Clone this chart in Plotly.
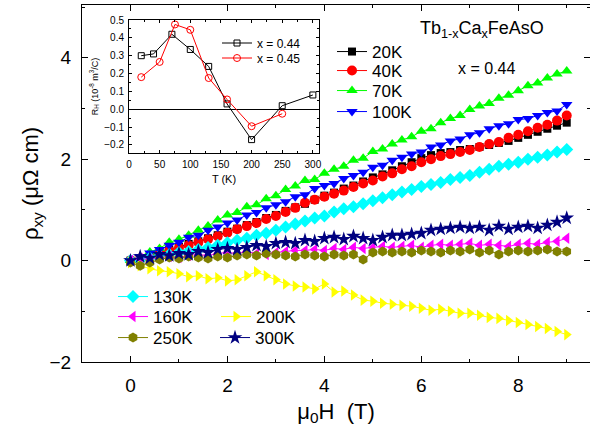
import plotly.graph_objects as go

# ---------------- data ----------------
H = [0.0, 0.2, 0.4, 0.6, 0.8, 1.0, 1.2, 1.4, 1.6, 1.8, 2.0, 2.2, 2.4, 2.6, 2.8,
     3.0, 3.2, 3.4, 3.6, 3.8, 4.0, 4.2, 4.4, 4.6, 4.8, 5.0, 5.2, 5.4, 5.6, 5.8,
     6.0, 6.2, 6.4, 6.6, 6.8, 7.0, 7.2, 7.4, 7.6, 7.8, 8.0, 8.2, 8.4, 8.6, 8.8, 9.0]

rho_20K = [0.00, 0.04, 0.10, 0.15, 0.22, 0.27, 0.33, 0.38, 0.44, 0.50, 0.57, 0.63, 0.70, 0.76, 0.84,
           0.90, 0.98, 1.05, 1.12, 1.20, 1.28, 1.34, 1.42, 1.48, 1.56, 1.64, 1.70, 1.78, 1.86, 1.94,
           2.02, 2.08, 2.12, 2.14, 2.18, 2.20, 2.24, 2.28, 2.32, 2.36, 2.42, 2.48, 2.54, 2.60, 2.66, 2.72]
rho_40K = [0.00, 0.04, 0.08, 0.14, 0.20, 0.25, 0.30, 0.36, 0.42, 0.48, 0.55, 0.62, 0.68, 0.74, 0.82,
           0.88, 0.96, 1.04, 1.14, 1.20, 1.26, 1.32, 1.38, 1.45, 1.52, 1.58, 1.66, 1.72, 1.80, 1.86,
           1.94, 2.00, 2.06, 2.10, 2.14, 2.18, 2.24, 2.30, 2.34, 2.42, 2.48, 2.55, 2.62, 2.68, 2.76, 2.86]
rho_70K = [0.00, 0.06, 0.17, 0.24, 0.36, 0.42, 0.50, 0.60, 0.68, 0.80, 0.90, 0.95, 1.06, 1.10, 1.22,
           1.28, 1.40, 1.47, 1.58, 1.60, 1.72, 1.80, 1.86, 1.98, 2.02, 2.15, 2.20, 2.30, 2.38, 2.44,
           2.55, 2.60, 2.72, 2.80, 2.86, 2.98, 3.05, 3.10, 3.20, 3.26, 3.35, 3.45, 3.50, 3.60, 3.68, 3.74]
rho_100K = [0.00, 0.08, 0.15, 0.22, 0.30, 0.36, 0.46, 0.50, 0.60, 0.66, 0.74, 0.80, 0.90, 0.95, 1.04,
            1.10, 1.16, 1.26, 1.30, 1.42, 1.48, 1.52, 1.62, 1.68, 1.74, 1.84, 1.88, 1.98, 2.04, 2.10,
            2.14, 2.24, 2.28, 2.36, 2.40, 2.48, 2.52, 2.60, 2.66, 2.70, 2.78, 2.80, 2.86, 2.92, 2.95, 3.08]
rho_130K = [0.00, 0.02, 0.05, 0.09, 0.12, 0.16, 0.18, 0.22, 0.26, 0.30, 0.35, 0.40, 0.44, 0.50, 0.54,
            0.60, 0.66, 0.72, 0.78, 0.84, 0.88, 0.96, 1.02, 1.06, 1.12, 1.18, 1.24, 1.30, 1.35, 1.40,
            1.46, 1.50, 1.54, 1.60, 1.64, 1.68, 1.74, 1.80, 1.86, 1.90, 1.94, 2.00, 2.04, 2.08, 2.14, 2.19]
rho_160K = [0.00, 0.04, 0.02, 0.06, 0.08, 0.06, 0.10, 0.12, 0.10, 0.14, 0.16, 0.14, 0.18, 0.14, 0.12,
            0.16, 0.18, 0.20, 0.20, 0.22, 0.20, 0.24, 0.22, 0.26, 0.24, 0.26, 0.28, 0.26, 0.28, 0.30,
            0.26, 0.30, 0.32, 0.30, 0.32, 0.34, 0.30, 0.32, 0.30, 0.28, 0.32, 0.34, 0.32, 0.36, 0.38, 0.44]
rho_200K = [-0.04, -0.10, -0.16, -0.20, -0.22, -0.26, -0.32, -0.30, -0.36, -0.34, -0.40, -0.38, -0.30, -0.22, -0.30,
            -0.38, -0.46, -0.50, -0.52, -0.56, -0.46, -0.62, -0.60, -0.68, -0.78, -0.80, -0.84, -0.86, -0.88, -0.90,
            -0.94, -0.98, -0.96, -1.00, -1.04, -1.04, -1.08, -1.12, -1.14, -1.18, -1.22, -1.26, -1.30, -1.34, -1.40, -1.46]
rho_250K = [-0.04, -0.10, -0.04, 0.02, 0.06, 0.04, 0.08, 0.06, 0.04, 0.08, 0.06, 0.10, 0.12, 0.10, 0.14,
            0.12, 0.10, 0.08, 0.12, 0.10, 0.08, 0.12, 0.10, 0.12, 0.02, 0.16, 0.18, 0.16, 0.18, 0.16,
            0.20, 0.18, 0.16, 0.20, 0.18, 0.22, 0.16, 0.20, 0.12, 0.18, 0.20, 0.18, 0.20, 0.22, 0.18, 0.18]
rho_300K = [0.00, 0.08, 0.05, 0.12, 0.10, 0.14, 0.12, 0.18, 0.16, 0.22, 0.24, 0.22, 0.26, 0.30, 0.28,
            0.34, 0.36, 0.34, 0.40, 0.38, 0.44, 0.46, 0.42, 0.48, 0.44, 0.40, 0.46, 0.50, 0.50, 0.52,
            0.54, 0.60, 0.62, 0.64, 0.66, 0.64, 0.66, 0.60, 0.68, 0.62, 0.66, 0.68, 0.64, 0.70, 0.76, 0.84]

# inset: Hall coefficient vs temperature
T_044 = [20, 40, 70, 100, 130, 160, 200, 250, 300]
RH_044 = [0.30, 0.31, 0.42, 0.335, 0.24, 0.03, -0.17, 0.02, 0.08]
T_045 = [20, 50, 75, 100, 130, 160, 200, 250]
RH_045 = [0.18, 0.265, 0.475, 0.445, 0.175, 0.055, -0.095, -0.025]

W, Hgt = 590, 431
ml, mr, mt, mb = 82, 0, 5, 69
pw, ph = W - ml - mr, Hgt - mt - mb


def px_x(p):
    return (p - ml) / pw


def px_y(p):
    return (Hgt - mb - p) / ph


# name, values, colour, symbol, size, legend-left(px), legend-row(px)
series = [
    ("20K", rho_20K, "#000000", "square", 8, 332, 52),
    ("40K", rho_40K, "#ff0000", "circle", 10, 332, 71),
    ("70K", rho_70K, "#00ff00", "triangle-up", 10, 332, 91),
    ("100K", rho_100K, "#0000ff", "triangle-down", 10, 332, 112),
    ("130K", rho_130K, "#00ffff", "diamond", 10, 113, 297),
    ("160K", rho_160K, "#ff00ff", "triangle-left", 10, 113, 317),
    ("200K", rho_200K, "#ffff00", "triangle-right", 10, 216, 317),
    ("250K", rho_250K, "#808000", "hexagon", 10, 113, 338),
    ("300K", rho_300K, "#000080", "star", 11, 215, 338),
]

FONT = "Arial, Liberation Sans, sans-serif"
fig = go.Figure()
legends = {}
for i, (name, vals, col, sym, sz, lx, ly) in enumerate(series):
    key = "legend" if i == 0 else f"legend{i + 1}"
    fig.add_trace(go.Scatter(
        x=H, y=vals, mode="lines+markers", name=name, showlegend=True,
        line=dict(color=col, width=1),
        marker=dict(symbol=sym, size=sz, color=col, line=dict(width=0)),
        legend=key, xaxis="x", yaxis="y"))
    legends[key] = dict(x=px_x(lx), y=px_y(ly), xanchor="left", yanchor="middle",
                        bgcolor="rgba(0,0,0,0)", font=dict(size=17), visible=True)

n = len(series)
inset_series = [
    ("x = 0.44", T_044, RH_044, "black", "square-open", 6, 217, 43),
    ("x = 0.45", T_045, RH_045, "red", "circle-open", 7, 217, 58),
]
for j, (name, tx, ry, col, sym, sz, lx, ly) in enumerate(inset_series):
    key = f"legend{n + j + 1}"
    fig.add_trace(go.Scatter(
        x=tx, y=ry, mode="lines+markers", name=name, showlegend=True,
        line=dict(color=col, width=1),
        marker=dict(symbol=sym, size=sz, color=col, line=dict(width=1, color=col)),
        legend=key, xaxis="x2", yaxis="y2"))
    legends[key] = dict(x=px_x(lx), y=px_y(ly), xanchor="left", yanchor="middle",
                        bgcolor="rgba(0,0,0,0)", font=dict(size=12), visible=True)

axis_common = dict(showline=True, linecolor="black", linewidth=1.3, mirror="allticks",
                   ticks="inside", tickcolor="black", showgrid=False, zeroline=False,
                   automargin=False)

fig.update_layout(
    width=W, height=Hgt, showlegend=True,
    margin=dict(l=ml, r=mr, t=mt, b=mb, autoexpand=False),
    paper_bgcolor="white", plot_bgcolor="white",
    font=dict(family=FONT, color="black"),
    xaxis=dict(range=[-1, 9.48], tickvals=[0, 2, 4, 6, 8], ticklen=6, tickwidth=1.3,
               minor=dict(ticks="inside", dtick=1, tick0=0, ticklen=3, tickcolor="black"),
               tickfont=dict(size=19), ticklabelstandoff=6,
               title=dict(text="μ<sub>0</sub>H  (T)", font=dict(size=22), standoff=8),
               **axis_common),
    yaxis=dict(range=[-2, 5.04], tickvals=[-2, 0, 2, 4], ticklen=6, tickwidth=1.3,
               minor=dict(ticks="inside", dtick=1, tick0=0, ticklen=3, tickcolor="black"),
               tickfont=dict(size=19), ticklabelstandoff=6,
               title=dict(text="ρ<sub>xy</sub> (μΩ cm)", font=dict(size=22), standoff=4),
               **axis_common),
    xaxis2=dict(domain=[px_x(129), px_x(319)], anchor="y2", range=[0, 310],
                tickvals=[0, 50, 100, 150, 200, 250, 300], ticklen=3, tickwidth=1,
                minor=dict(ticks="inside", dtick=25, tick0=0, ticklen=2, tickcolor="black"),
                tickfont=dict(size=10), ticklabelstandoff=2,
                title=dict(text="T (K)", font=dict(size=11), standoff=6),
                showline=True, linecolor="black", linewidth=1, mirror="allticks",
                ticks="inside", tickcolor="black", showgrid=False, zeroline=False,
                automargin=False),
    yaxis2=dict(domain=[px_y(153), px_y(20)], anchor="x2", range=[-0.245, 0.5],
                tickvals=[-0.2, -0.1, 0.0, 0.1, 0.2, 0.3, 0.4, 0.5], tickformat=".1f",
                ticklen=3, tickwidth=1,
                minor=dict(ticks="inside", dtick=0.05, tick0=0, ticklen=2, tickcolor="black"),
                tickfont=dict(size=10), ticklabelstandoff=2,
                title=dict(text="R<sub>H</sub> (10<sup>-8</sup> m<sup>3</sup>/C)", font=dict(size=9), standoff=4),
                showline=True, linecolor="black", linewidth=1, mirror="allticks",
                ticks="inside", tickcolor="black", showgrid=False,
                zeroline=True, zerolinecolor="black", zerolinewidth=1,
                automargin=False),
    annotations=[
        dict(text="Tb<sub>1-x</sub>Ca<sub>x</sub>FeAsO", xref="paper", yref="paper",
             x=px_x(418), y=px_y(30), xanchor="left", yanchor="middle",
             showarrow=False, font=dict(size=18)),
        dict(text="x = 0.44", xref="paper", yref="paper",
             x=px_x(456), y=px_y(68), xanchor="left", yanchor="middle",
             showarrow=False, font=dict(size=16)),
    ],
    **legends,
)

fig.write_html("out.html", config={"displayModeBar": False},
               post_script="document.body.style.margin='0';document.body.style.padding='0';")
